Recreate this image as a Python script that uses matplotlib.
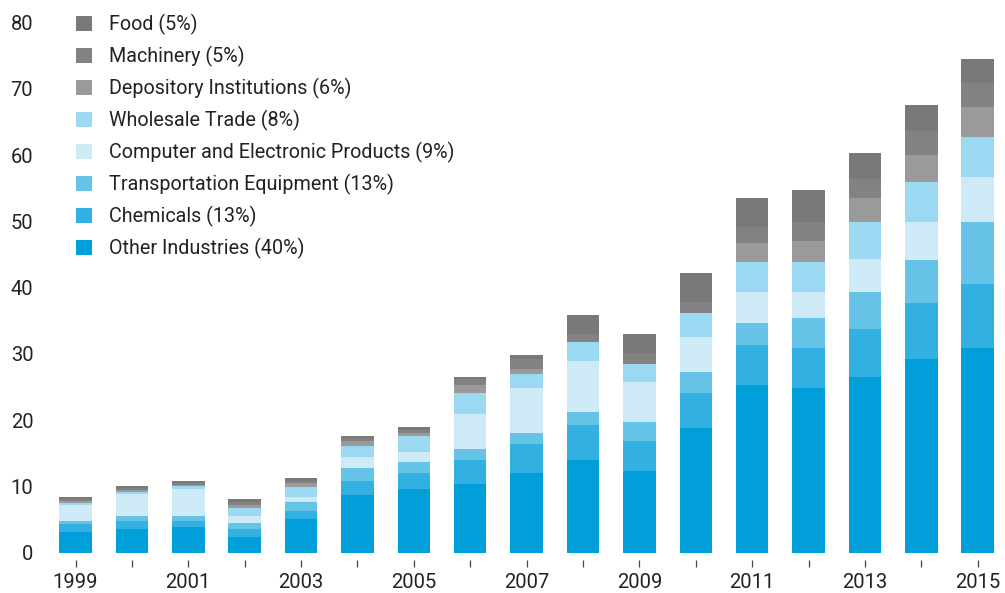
import matplotlib
matplotlib.use("Agg")
import matplotlib.pyplot as plt
from matplotlib.patches import Patch
import numpy as np

plt.rcParams['font.family'] = ['Roboto', 'DejaVu Sans']

years = list(range(1999, 2016))
other = [3.17, 3.58, 3.92, 2.42, 5.09, 8.71, 9.62, 10.42, 12.08, 14.04, 12.33, 18.87, 25.31, 24.91, 26.52, 29.28, 30.94]
chemicals = [1.16, 1.20, 0.86, 1.16, 1.20, 2.11, 2.41, 3.57, 4.37, 5.24, 4.53, 5.24, 6.04, 6.03, 7.25, 8.41, 9.62]
transport = [0.45, 0.80, 0.80, 0.86, 1.32, 2.01, 1.62, 1.66, 1.62, 2.00, 2.82, 3.21, 3.28, 4.44, 5.63, 6.54, 9.31]
computer = [2.42, 3.28, 4.03, 1.14, 0.80, 1.62, 1.60, 5.24, 6.84, 7.66, 6.04, 5.24, 4.77, 4.02, 4.89, 5.69, 6.84]
wholesale = [0.30, 0.34, 0.41, 1.21, 1.55, 1.61, 2.41, 3.22, 2.06, 2.82, 2.81, 3.62, 4.43, 4.43, 5.58, 5.99, 6.04]
depository = [0.30, 0.20, 0.25, 0.45, 0.55, 0.85, 0.36, 1.20, 0.76, 0.00, 0.00, 0.00, 2.87, 3.22, 3.67, 4.07, 4.53]
machinery = [0.30, 0.35, 0.25, 0.40, 0.35, 0.36, 0.50, 0.86, 1.55, 1.25, 1.57, 1.62, 2.42, 2.82, 2.82, 3.67, 3.57]
food = [0.30, 0.32, 0.30, 0.42, 0.37, 0.39, 0.41, 0.35, 0.52, 2.82, 2.87, 4.42, 4.42, 4.83, 3.97, 3.93, 3.63]

series_names = ["Other Industries (40%)", "Chemicals (13%)", "Transportation Equipment (13%)",
                "Computer and Electronic Products (9%)", "Wholesale Trade (8%)",
                "Depository Institutions (6%)", "Machinery (5%)", "Food (5%)"]
series_values = [other, chemicals, transport, computer, wholesale, depository, machinery, food]
colors = ["#009fda", "#33b0e2", "#66c3e8", "#cdeaf6", "#9bd8f1", "#9a9a9a", "#828282", "#797979"]

yticks = [0, 10, 20, 30, 40, 50, 60, 70, 80]
xlabels = [str(y) if y % 2 == 1 else "" for y in years]

fig = plt.figure(figsize=(10.05, 5.93), dpi=100)
ax = fig.add_axes([41.7 / 1005, (593 - 560) / 593, (994.6 - 41.7) / 1005, (560 - 10) / 593])

x = np.arange(len(years))
bottom = np.zeros(len(years))
handles = []
for name, vals, c in zip(series_names, series_values, colors):
    vals = np.array(vals)
    ax.bar(x, vals, width=0.575, bottom=bottom, color=c, edgecolor='none')
    bottom += vals
    handles.append(Patch(facecolor=c, edgecolor='none', label=name))

ax.set_xlim(-0.6, 16.3)
ax.set_ylim(-1.1, 81.9)
ax.set_yticks(yticks)
ax.set_yticklabels([str(t) for t in yticks])
ax.set_xticks(x)
ax.set_xticklabels(xlabels)
for s in ax.spines.values():
    s.set_visible(False)
ax.tick_params(axis='y', length=0, pad=6, labelsize=14.5, labelcolor='#222222')
ax.tick_params(axis='x', length=4.8, width=0.9, color='#444444', pad=4.5, labelsize=14.5, labelcolor='#222222')

leg = ax.legend(handles=handles[::-1], loc='upper left', bbox_to_anchor=(76 / 1005, 1 - 13.8 / 593),
                bbox_transform=fig.transFigure, frameon=False, fontsize=14.2, borderpad=0, borderaxespad=0,
                handlelength=0.8, handleheight=0.8, handletextpad=0.85, labelspacing=0.555)
for t in leg.get_texts():
    t.set_color('#222222')

fig.savefig("out.png", dpi=100)
